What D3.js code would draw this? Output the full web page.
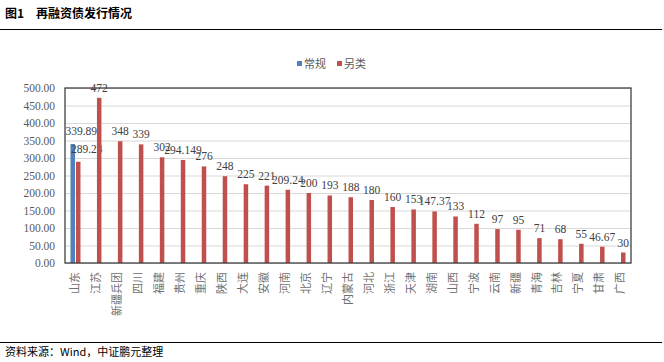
<!DOCTYPE html>
<html lang="zh">
<head>
    <meta charset="UTF-8">
    <title>再融资债发行情况</title>
    <script src="https://d3js.org/d3.v7.min.js"></script>
    <style>
        body { margin: 0; background: #fff; }
    </style>
</head>
<body>
<svg width="664" height="362"></svg>
<script>
    // data
    var regions = ["山东", "江苏", "新疆兵团", "四川", "福建", "贵州", "重庆", "陕西", "大连", "安徽",
                   "河南", "北京", "辽宁", "内蒙古", "河北", "浙江", "天津", "湖南", "山西", "宁波",
                   "云南", "新疆", "青海", "吉林", "宁夏", "甘肃", "广西"];
    var regular = [339.89, null, null, null, null, null, null, null, null, null,
                   null, null, null, null, null, null, null, null, null, null,
                   null, null, null, null, null, null, null];
    var other = [289.23, 472, 348, 339, 302, 294.149, 276, 248, 225, 221,
                 209.24, 200, 193, 188, 180, 160, 153, 147.37, 133, 112,
                 97, 95, 71, 68, 55, 46.67, 30];
    var seriesNames = ["常规", "另类"];
    var yTicks = [0, 50, 100, 150, 200, 250, 300, 350, 400, 450, 500];

    var colors = {"常规": "#4f81bd", "另类": "#c0504d"};
    var cjk = "'Noto Sans CJK SC', sans-serif",
        serif = "'Liberation Serif', 'Times New Roman', serif";

    var svg = d3.select("svg"),
        margin = {top: 88, right: 33, bottom: 99, left: 65},
        width = +svg.attr("width") - margin.left - margin.right,
        height = +svg.attr("height") - margin.top - margin.bottom,
        g = svg.append("g")
               .attr("transform", "translate(" + margin.left + "," + margin.top + ")");

    // header / footer
    svg.append("text").attr("x", 5).attr("y", 18)
       .attr("font-family", cjk).attr("font-weight", "bold").attr("font-size", 12)
       .text("图1\u2003再融资债发行情况");
    svg.append("line").attr("x1", 0).attr("x2", 662).attr("y1", 29.5).attr("y2", 29.5)
       .attr("stroke", "#000").attr("stroke-width", 1.2);
    svg.append("line").attr("x1", 0).attr("x2", 662).attr("y1", 342.5).attr("y2", 342.5)
       .attr("stroke", "#000").attr("stroke-width", 1.2);
    svg.append("text").attr("x", 5).attr("y", 356)
       .attr("font-family", cjk).attr("font-size", 11)
       .text("资料来源：Wind，中证鹏元整理");

    var x = d3.scaleBand().domain(regions).range([0, width]);
    var xs = d3.scaleBand().domain(seriesNames).range([-5.5, 5.5]);
    var y = d3.scaleLinear().domain([0, 500]).range([height, 0]);

    // grid
    g.append("g")
     .call(d3.axisLeft(y).tickValues(yTicks).tickSize(-width).tickFormat(""))
     .call(function(a) {
         a.select(".domain").remove();
         a.selectAll("line").attr("stroke", "#d9d9d9");
     });

    // y labels
    g.append("g")
     .call(d3.axisLeft(y).tickValues(yTicks).tickSize(0).tickPadding(10).tickFormat(d3.format(".2f")))
     .call(function(a) {
         a.select(".domain").remove();
         a.selectAll("text").attr("font-family", serif).attr("font-size", 11.5).attr("fill", "#595959");
     });

    var rows = regions.map(function(r, i) {
        return {region: r, i: i, vals: [
            {name: "常规", value: regular[i]},
            {name: "另类", value: other[i]}
        ].filter(function(d) { return d.value != null; })};
    });

    var groups = g.selectAll(".grp").data(rows).enter().append("g")
        .attr("class", "grp")
        .attr("transform", function(d) { return "translate(" + (x(d.region) + x.bandwidth() / 2) + ",0)"; });

    groups.selectAll("rect").data(function(d) { return d.vals; }).enter().append("rect")
        .attr("x", function(d) { return xs(d.name) + 0.5; })
        .attr("width", xs.bandwidth() - 1)
        .attr("y", function(d) { return y(d.value); })
        .attr("height", function(d) { return height - y(d.value); })
        .attr("fill", function(d) { return colors[d.name]; });

    groups.each(function(row) {
        var grp = d3.select(this);
        row.vals.forEach(function(d) {
            var first = row.i === 0;
            grp.append("text")
               .attr("x", first ? xs(d.name) - 4.5 : xs(d.name) + xs.bandwidth() / 2)
               .attr("y", y(d.value) - (first ? 9 : 6))
               .attr("text-anchor", first ? "start" : "middle")
               .attr("font-family", serif).attr("font-size", 11.5).attr("fill", "#404040")
               .text(d.value);
        });
    });

    // frame
    g.append("rect").attr("width", width).attr("height", height)
     .attr("fill", "none").attr("stroke", "#404040").attr("stroke-width", 1.3);

    // x labels, rotated
    g.append("g").attr("transform", "translate(0," + height + ")")
     .call(d3.axisBottom(x).tickSize(0).tickPadding(0))
     .call(function(a) {
         a.select(".domain").remove();
         a.selectAll("text")
          .attr("transform", "translate(0,9) rotate(-90)")
          .attr("x", 0).attr("y", 0).attr("dy", "0.35em")
          .attr("text-anchor", "end")
          .attr("font-family", cjk).attr("font-size", 11).attr("fill", "#707070");
     });

    // legend
    var legend = svg.append("g").attr("transform", "translate(297,60)");
    seriesNames.forEach(function(n, i) {
        var lg = legend.append("g").attr("transform", "translate(" + (i * 40) + ",0)");
        lg.append("rect").attr("width", 5).attr("height", 5).attr("y", 1).attr("fill", colors[n]);
        lg.append("text").attr("x", 7).attr("y", 8)
          .attr("font-family", cjk).attr("font-size", 11).attr("fill", "#595959").text(n);
    });
</script>
</body>
</html>
